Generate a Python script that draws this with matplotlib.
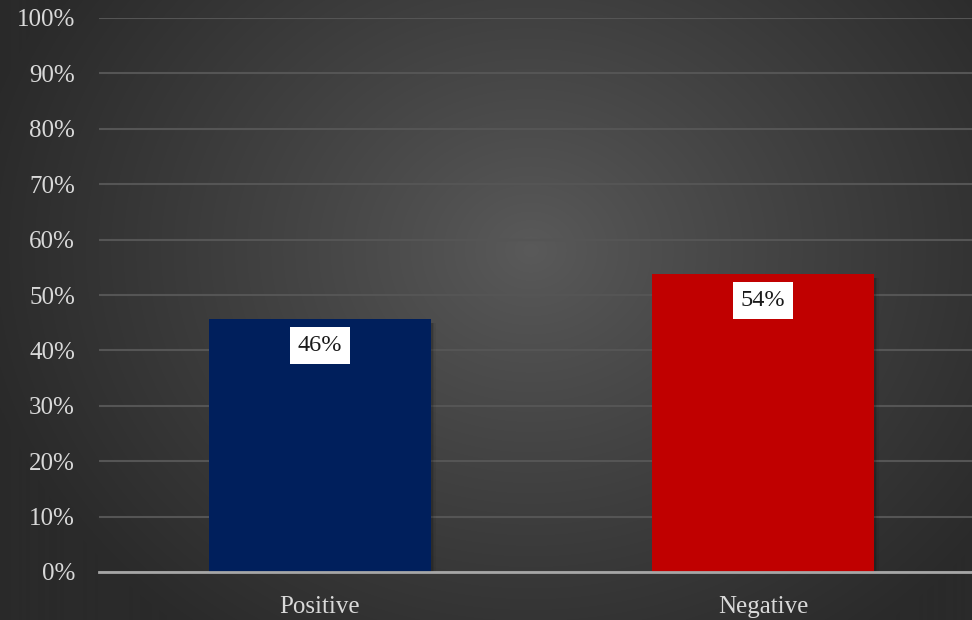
import numpy as np
import matplotlib
matplotlib.use("Agg")
import matplotlib.pyplot as plt
from matplotlib.patches import Rectangle

categories = ["Positive", "Negative"]
values = [45.7, 53.8]
labels = ["46%", "54%"]
colors = ["#001f5c", "#c00000"]
yticks = list(range(0, 101, 10))

W, H = 972, 620
fig = plt.figure(figsize=(W / 100, H / 100), dpi=100)

# radial gradient background
bg = fig.add_axes([0, 0, 1, 1], zorder=0)
yy, xx = np.mgrid[0:H, 0:W]
cx, cy = 530, 250
r = np.sqrt(((xx - cx) / 560.0) ** 2 + ((yy - cy) / 480.0) ** 2)
r = np.clip(r, 0, 1)
inner, outer = 0x5a / 255, 0x2a / 255
v = inner + (outer - inner) * r ** 0.9
img = np.dstack([v, v, v])
bg.imshow(img, aspect="auto", extent=[0, 1, 0, 1], origin="upper")
bg.set_axis_off()

font = "Liberation Serif"
left = 98.5 / W
width = 886 / W
bottom = (H - 572) / H
height = (572 - 18) / H
ax = fig.add_axes([left, bottom, width, height], zorder=1)
ax.patch.set_alpha(0)

x = np.arange(len(categories))
# subtle shadow
for xi, val in zip(x, values):
    for k, a in [(0.004, 0.12), (0.008, 0.08), (0.012, 0.05)]:
        ax.add_patch(Rectangle((xi - 0.25 + k, -0.5), 0.5, val - 0.3,
                               facecolor="black", alpha=a, edgecolor="none", zorder=2))
ax.bar(x, values, width=0.5, color=colors, zorder=3)

for xi, val, lab in zip(x, values, labels):
    ax.text(xi, val - 4.8, lab, ha="center", va="center", fontsize=17.5, family=font,
            color="#1a1a1a", zorder=5,
            bbox=dict(boxstyle="square,pad=0.32", facecolor="white", edgecolor="none"))

ax.set_xlim(-0.5, 1.5)
ax.set_ylim(0, 100)
ax.set_yticks(yticks)
ax.set_yticklabels([f"{t}%" for t in yticks])
ax.set_xticks(x)
ax.set_xticklabels(categories)
ax.yaxis.grid(True, color="#555555", linewidth=1.5, zorder=1)
ax.set_axisbelow(True)
for s in ["top", "right", "left"]:
    ax.spines[s].set_visible(False)
ax.spines["bottom"].set_color("#a6a6a6")
ax.spines["bottom"].set_linewidth(2)
ax.spines["bottom"].set_zorder(4)
ax.tick_params(axis="both", length=0, colors="#d9d9d9", labelsize=18)
ax.tick_params(axis="y", pad=17)
ax.tick_params(axis="x", pad=17)
for t in ax.get_xticklabels() + ax.get_yticklabels():
    t.set_family(font)

fig.savefig("out.png", dpi=100)
